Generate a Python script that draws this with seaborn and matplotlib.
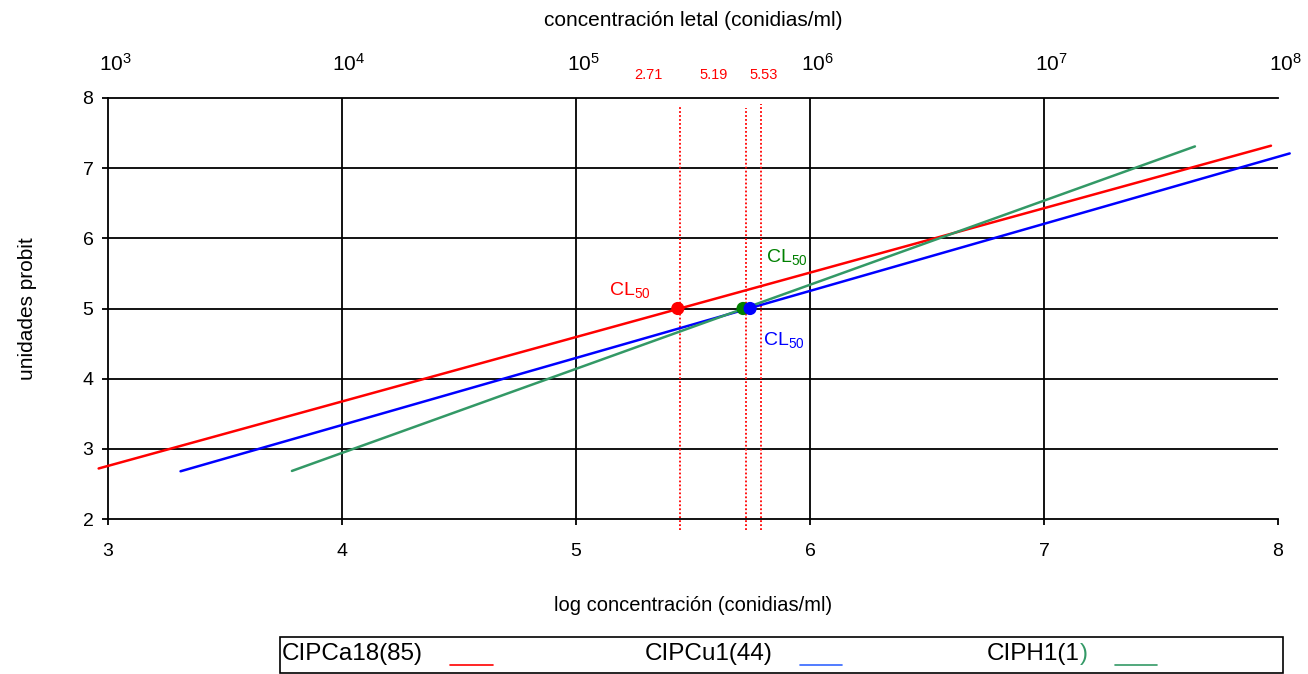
import matplotlib
matplotlib.use("Agg")
import matplotlib.pyplot as plt
import matplotlib.text as mtext
import matplotlib.transforms as mtrans
import seaborn as sns
import pandas as pd
from matplotlib.lines import Line2D
from matplotlib.patches import Rectangle

# ---- data ----
series_names = ["CIPCa18(85)", "CIPCu1(44)", "CIPH1(1)"]
red_x = [2.96, 7.97]
red_y = [2.72, 7.32]
blue_x = [3.31, 8.05]
blue_y = [2.68, 7.21]
green_x = [3.786, 7.645]
green_y = [2.685, 7.31]
cl50_x = [5.435, 5.714, 5.744]
cl50_y = [5.0, 5.0, 5.0]
dotted_x = [5.444, 5.726, 5.79]
dotted_top = [7.87, 7.86, 7.92]
dotted_labels = ["2.71", "5.19", "5.53"]
dotted_label_x = [5.308, 5.59, 5.80]
top_ticks = [3, 4, 5, 6, 7, 8]
top_labels = [r"$\mathregular{10^{%d}}$" % t for t in top_ticks]

line_colors = ["#FF0000", "#0000FF", "#339966"]
point_colors = ["#FF0000", "#008000", "#0000FF"]

df = pd.DataFrame({
    "x": red_x + blue_x + green_x,
    "y": red_y + blue_y + green_y,
    "s": [series_names[0]] * 2 + [series_names[1]] * 2 + [series_names[2]] * 2,
})
pts = pd.DataFrame({"x": cl50_x, "y": cl50_y, "s": ["r", "g", "b"]})

sns.set_theme(style="white")
plt.rcParams["font.family"] = ["Liberation Sans", "DejaVu Sans"]
plt.rcParams["mathtext.fontset"] = "custom"
plt.rcParams["mathtext.rm"] = "Liberation Sans"
for k in ["text.color", "axes.labelcolor", "xtick.color", "ytick.color"]:
    plt.rcParams[k] = "black"

fig = plt.figure(figsize=(13.08, 6.74), dpi=100)
ax = fig.add_axes([108 / 1308, 1 - 519 / 674, (1278 - 108) / 1308, (519 - 98) / 674])

ax.set_xlim(3, 8)
ax.set_ylim(2, 8)

# grid
for gx in [4, 5, 6, 7]:
    ax.axvline(gx, color="black", lw=1.3, zorder=1)
for gy in [3, 4, 5, 6, 7]:
    ax.axhline(gy, color="black", lw=1.3, zorder=1)

sns.lineplot(data=df, x="x", y="y", hue="s", palette=line_colors, ax=ax,
             legend=False, lw=1.8, zorder=3, clip_on=False, sort=False)
sns.scatterplot(data=pts, x="x", y="y", hue="s", palette=point_colors, ax=ax,
                legend=False, s=90, edgecolor="none", zorder=4)

# dotted vertical lines
for xv, yt in zip(dotted_x, dotted_top):
    ax.vlines(xv, 1.84, yt, colors="#FF0000", linestyles=(0, (1, 1.2)), lw=1.3,
              clip_on=False, zorder=2)
for lbl, lx in zip(dotted_labels, dotted_label_x):
    ax.text(lx, 8.33, lbl, color="#FF0000", fontsize=10.5, ha="center", va="center")

# CL50 labels
ax.text(5.14, 5.27, r"$\mathregular{CL_{50}}$", color="#FF0000", fontsize=14, va="center")
ax.text(5.81, 5.73, r"$\mathregular{CL_{50}}$", color="#008000", fontsize=14, va="center")
ax.text(5.80, 4.55, r"$\mathregular{CL_{50}}$", color="#0000FF", fontsize=14, va="center")

# spines
ax.spines["right"].set_visible(False)
for side in ["left", "bottom", "top"]:
    ax.spines[side].set_color("black")
    ax.spines[side].set_linewidth(1.3)

ax.set_xticks([3, 4, 5, 6, 7, 8])
ax.set_yticks([2, 3, 4, 5, 6, 7, 8])
ax.tick_params(axis="y", direction="out", length=4.5, width=1.3, color="black",
               left=True, labelsize=14, pad=6)
ax.tick_params(axis="x", direction="out", length=4, width=1.3, color="black",
               bottom=True, labelsize=14, pad=13)
ax.set_xlabel("log concentración (conidias/ml)", fontsize=14.5, labelpad=26)
ax.set_ylabel("unidades probit", fontsize=15, labelpad=33)

# top axis
ax2 = ax.twiny()
ax2.set_xlim(3, 8)
ax2.set_xticks(top_ticks)
ax2.set_xticklabels(top_labels)
ax2.tick_params(axis="x", length=0, labelsize=15, pad=17)
shift = mtrans.ScaledTranslation(7 / 100, 0, fig.dpi_scale_trans)
for lab in ax2.get_xticklabels():
    lab.set_transform(lab.get_transform() + shift)
for sp in ax2.spines.values():
    sp.set_visible(False)
ax2.set_xlabel("concentración letal (conidias/ml)", fontsize=15, labelpad=19)

# legend box (drawn manually)
W, H = 1308, 674
fig.patches.append(Rectangle((280 / W, 1 - 673 / H), (1283 - 280) / W, (673 - 637) / H,
                             transform=fig.transFigure, fill=False, edgecolor="black", lw=1.2))
leg_text_x = [282, 645, 987]
leg_line_x = [(450, 493), (800, 842), (1115, 1157)]
leg_colors = ["#FF0000", "#3366FF", "#339966"]
ty = 1 - 654 / H
for i, name in enumerate(series_names):
    if i == 2:
        t = fig.text(leg_text_x[i] / W, ty, name[:-1], fontsize=17.5, va="center", ha="left")
        ann = mtext.Annotation(")", xy=(1, 0.5), xycoords=t, xytext=(0, 0),
                               textcoords="offset points", va="center", ha="left",
                               fontsize=17.5, color="#339966")
        fig.add_artist(ann)
    else:
        fig.text(leg_text_x[i] / W, ty, name, fontsize=17.5, va="center", ha="left")
    x0, x1 = leg_line_x[i]
    fig.lines.append(Line2D([x0 / W, x1 / W], [1 - 665 / H] * 2, transform=fig.transFigure,
                            color=leg_colors[i], lw=1.2))

fig.savefig("out.png", dpi=100)
